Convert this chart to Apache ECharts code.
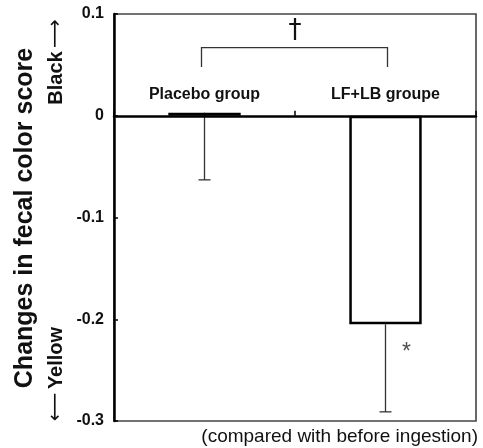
<!DOCTYPE html>
<html>
<head>
<meta charset="utf-8">
<script src="https://cdn.jsdelivr.net/npm/echarts@6/dist/echarts.min.js"></script>
<style>
  html, body { margin: 0; padding: 0; background: #fff; }
  #chart { width: 483px; height: 448px; }
</style>
</head>
<body>
<div id="chart"></div>
<script>
// Group names and mean change in fecal color score
const categories = ['Placebo group', 'LF+LB groupe'];
const meanChange = [0.003, -0.205];
// Lower end of each error bar
const errorLow = [-0.063, -0.291];
// Y axis range and tick step
const yMin = -0.3;
const yMax = 0.1;
const yStep = 0.1;
// Significance marks: bracket between the groups, and a mark beside group 2
const bracketTop = 0.067;
const bracketFoot = 0.048;
const daggerY = 0.083;
const starY = -0.228;

const FONT = '"Liberation Sans", Arial, Helvetica, sans-serif';
// group names sit just above the zero line
const NAME_LEVEL = 0.021;

const chart = echarts.init(document.getElementById('chart'), null, { renderer: 'canvas' });

const errorData = categories.map((c, i) => [i, meanChange[i], errorLow[i]]);
const nameData = categories.map((c, i) => [i, NAME_LEVEL, c]);

chart.setOption({
  animation: false,
  backgroundColor: '#fff',
  grid: {
    left: 114, right: 7, top: 14, bottom: 27,
    show: true, borderColor: '#444', borderWidth: 1.6, backgroundColor: 'transparent'
  },
  xAxis: {
    type: 'category',
    data: categories,
    axisLine: { onZero: true, lineStyle: { color: '#000', width: 2.5 } },
    axisTick: { show: true, inside: true, length: 5, lineStyle: { color: '#000', width: 1.5 } },
    axisLabel: { show: false },
    splitLine: { show: false },
    z: 5
  },
  yAxis: {
    type: 'value',
    min: yMin, max: yMax, interval: yStep,
    axisLine: { show: true, onZero: false, lineStyle: { color: '#000', width: 2.5 } },
    axisTick: { show: true, inside: true, length: 4, lineStyle: { color: '#000', width: 1.5 } },
    splitLine: { show: false },
    axisLabel: {
      margin: 10,
      fontFamily: FONT, fontWeight: 'bold', fontSize: 16, color: '#111',
      formatter: v => {
        const r = Math.round(v * 10) / 10;
        return r === 0 ? '0' : String(r);
      }
    }
  },
  series: [
    {
      type: 'bar',
      data: meanChange,
      barWidth: '40%',
      itemStyle: { color: '#fff', borderColor: '#000', borderWidth: 2.5 },
      z: 3
    },
    {
      // downward error bars with a short cap
      type: 'custom',
      data: errorData,
      z: 2,
      renderItem: (params, api) => {
        const x = api.value(0);
        const top = api.coord([x, api.value(1)]);
        const bot = api.coord([x, api.value(2)]);
        const cap = 6;
        const st = { stroke: '#333', lineWidth: 1.3 };
        return {
          type: 'group',
          children: [
            { type: 'line', shape: { x1: top[0], y1: top[1], x2: bot[0], y2: bot[1] }, style: st },
            { type: 'line', shape: { x1: bot[0] - cap, y1: bot[1], x2: bot[0] + cap, y2: bot[1] }, style: st }
          ]
        };
      }
    },
    {
      // group names drawn inside the plot, above the zero line
      type: 'custom',
      data: nameData,
      z: 6,
      renderItem: (params, api) => {
        const p = api.coord([api.value(0), api.value(1)]);
        return {
          type: 'text', x: p[0], y: p[1],
          style: {
            text: categories[params.dataIndex], fontFamily: FONT, fontWeight: 'bold',
            fontSize: 16, fill: '#111', align: 'center', verticalAlign: 'middle'
          }
        };
      }
    },
    {
      // bracket between the two groups with the dagger above it
      type: 'custom',
      data: [[0, 1, bracketTop, bracketFoot, daggerY]],
      z: 4,
      renderItem: (params, api) => {
        const a = api.coord([api.value(0), api.value(2)]);
        const b = api.coord([api.value(1), api.value(2)]);
        const foot = api.coord([api.value(0), api.value(3)])[1];
        const dg = api.coord([0.5, api.value(4)]);
        const mid = (a[0] + b[0]) / 2;
        const st = { stroke: '#333', lineWidth: 1.3, fill: null };
        return {
          type: 'group',
          children: [
            { type: 'polyline', shape: { points: [[a[0] - 3, foot], [a[0] - 3, a[1]], [b[0] + 2, b[1]], [b[0] + 2, foot]] }, style: st },
            { type: 'text', x: mid, y: dg[1], style: { text: '\u2020', font: '26px "DejaVu Sans"', fill: '#111', align: 'center', verticalAlign: 'middle' } }
          ]
        };
      }
    },
    {
      // significance mark next to the second group's error bar
      type: 'scatter',
      data: [[1, starY]],
      symbolSize: 0,
      label: {
        show: true, formatter: '*', position: 'inside', offset: [21, 5],
        fontFamily: FONT, fontSize: 23, color: '#222'
      },
      z: 4
    }
  ],
  graphic: [
    {
      type: 'text', rotation: Math.PI / 2, x: 25, y: 218,
      style: {
        text: 'Changes in fecal color score', fontFamily: FONT, fontWeight: 'bold',
        fontSize: 25, fill: '#111', align: 'center', verticalAlign: 'middle'
      }
    },
    {
      type: 'text', rotation: Math.PI / 2, x: 56, y: 62,
      style: {
        text: '{b|Black} {a|\u27f6}',
        align: 'center', verticalAlign: 'middle',
        rich: {
          b: { fontFamily: FONT, fontWeight: 'bold', fontSize: 20, fill: '#111', color: '#111' },
          a: { fontFamily: '"DejaVu Sans"', fontSize: 20, fill: '#111', color: '#111' }
        }
      }
    },
    {
      type: 'text', rotation: Math.PI / 2, x: 56, y: 374,
      style: {
        text: '{a|\u27f5} {b|Yellow}',
        align: 'center', verticalAlign: 'middle',
        rich: {
          b: { fontFamily: FONT, fontWeight: 'bold', fontSize: 20, fill: '#111', color: '#111' },
          a: { fontFamily: '"DejaVu Sans"', fontSize: 20, fill: '#111', color: '#111' }
        }
      }
    },
    {
      type: 'text', x: 478, y: 437,
      style: {
        text: '(compared with before ingestion)', fontFamily: FONT,
        fontSize: 19, fill: '#111', align: 'right', verticalAlign: 'middle'
      }
    }
  ]
});
</script>
</body>
</html>
